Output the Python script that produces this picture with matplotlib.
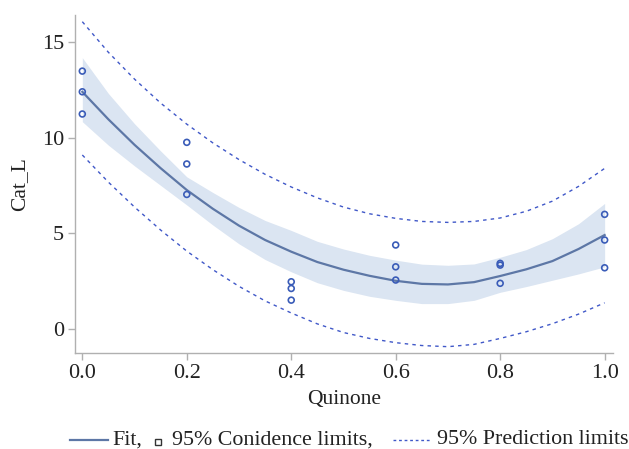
import matplotlib
matplotlib.use("Agg")
import matplotlib.pyplot as plt
from matplotlib.lines import Line2D

plt.rcParams['font.family'] = ['Liberation Serif', 'DejaVu Serif']

# observed data
obs_x = [0.0, 0.0, 0.0, 0.2, 0.2, 0.2, 0.4, 0.4, 0.4,
         0.6, 0.6, 0.6, 0.8, 0.8, 0.8, 1.0, 1.0, 1.0]
obs_y = [13.47, 12.39, 11.23, 9.75, 8.62, 7.03, 2.47, 2.12, 1.51,
         4.39, 3.25, 2.56, 3.43, 3.34, 2.39, 5.99, 4.65, 3.20]

# fitted curve and limits (read at 0.05 steps)
grid_x = [0.00, 0.05, 0.10, 0.15, 0.20, 0.25, 0.30, 0.35, 0.40, 0.45, 0.50,
          0.55, 0.60, 0.65, 0.70, 0.75, 0.80, 0.85, 0.90, 0.95, 1.00]
fit_y = [12.39, 10.95, 9.62, 8.40, 7.26, 6.28, 5.40, 4.65, 4.04, 3.50, 3.10,
         2.78, 2.52, 2.36, 2.33, 2.45, 2.77, 3.12, 3.55, 4.18, 4.91]
ci_up = [14.17, 12.30, 10.72, 9.30, 7.95, 7.13, 6.35, 5.67, 5.15, 4.58, 4.18,
         3.85, 3.60, 3.39, 3.33, 3.40, 3.75, 4.15, 4.72, 5.50, 6.56]
ci_lo = [10.83, 9.60, 8.52, 7.50, 6.48, 5.43, 4.45, 3.63, 2.99, 2.42, 2.02,
         1.71, 1.50, 1.33, 1.33, 1.50, 1.92, 2.22, 2.55, 2.88, 3.25]
pi_up = [16.05, 14.45, 13.05, 11.80, 10.70, 9.72, 8.85, 8.08, 7.42, 6.85, 6.37,
         6.02, 5.78, 5.62, 5.57, 5.62, 5.80, 6.15, 6.68, 7.45, 8.39]
pi_lo = [9.09, 7.67, 6.37, 5.17, 4.07, 3.10, 2.23, 1.47, 0.84, 0.27, -0.18,
         -0.49, -0.71, -0.86, -0.92, -0.80, -0.49, -0.14, 0.28, 0.78, 1.37]

xticks = [0.0, 0.2, 0.4, 0.6, 0.8, 1.0]
xtick_labels = ['0.0', '0.2', '0.4', '0.6', '0.8', '1.0']
yticks = [0, 5, 10, 15]

W, H = 629, 449
fig = plt.figure(figsize=(W / 100, H / 100), dpi=100)
ax = fig.add_axes([75 / W, 1 - 353 / H, (613 - 75) / W, (353 - 15) / H])

band_c = '#dbe5f2'
fit_c = '#5d77a6'
pt_c = '#3a5cb8'
dash_c = '#4058c8'
spine_c = '#b0b0b0'
txt_c = '#222222'

ax.fill_between(grid_x, ci_lo, ci_up, color=band_c, lw=0, zorder=1)
ax.plot(grid_x, fit_y, color=fit_c, lw=1.6, zorder=3)
ax.plot(grid_x, pi_up, color=dash_c, lw=1.0, ls=(0, (2.5, 3)), zorder=2)
ax.plot(grid_x, pi_lo, color=dash_c, lw=1.0, ls=(0, (2.5, 3)), zorder=2)
ax.scatter(obs_x, obs_y, s=18, facecolors='none', edgecolors=pt_c,
           linewidths=1.2, zorder=4)

ax.set_xlim(-0.014, 1.016)
ax.set_ylim(-1.25, 16.4)
ax.set_xticks(xticks)
ax.set_xticklabels(xtick_labels)
ax.set_yticks(yticks)
for s in ['top', 'right']:
    ax.spines[s].set_visible(False)
for s in ['left', 'bottom']:
    ax.spines[s].set_color(spine_c)
    ax.spines[s].set_linewidth(1.0)
ax.tick_params(axis='both', colors=spine_c, length=5, width=1.0,
               labelcolor=txt_c, labelsize=16, pad=3)
ax.set_xlabel('Quinone', fontsize=15.5, color=txt_c, labelpad=5)
ax.set_ylabel('Cat_L', fontsize=15.5, color=txt_c, labelpad=9)

# legend (manual, bottom)
ly = 1 - 440 / H
def fx(px):
    return px / W
lfs = 15.8
fig.add_artist(Line2D([fx(70), fx(108)], [ly, ly], color=fit_c, lw=1.6))
fig.text(fx(112), ly, 'Fit,', fontsize=lfs, va='center', ha='left', color=txt_c)
fig.add_artist(Line2D([fx(158)], [ly - 0.004], marker='s', markersize=5,
                      markerfacecolor='none', markeredgecolor='#333333',
                      markeredgewidth=1.0, ls='none'))
fig.text(fx(172), ly, '95% Conidence limits,', fontsize=lfs, va='center', ha='left', color=txt_c)
fig.add_artist(Line2D([fx(393), fx(430)], [ly, ly], color=dash_c, lw=1.0,
                      ls=(0, (2, 2))))
fig.text(fx(437), ly, '95% Prediction limits', fontsize=lfs, va='center', ha='left', color=txt_c)

fig.savefig('out.png', dpi=100)
